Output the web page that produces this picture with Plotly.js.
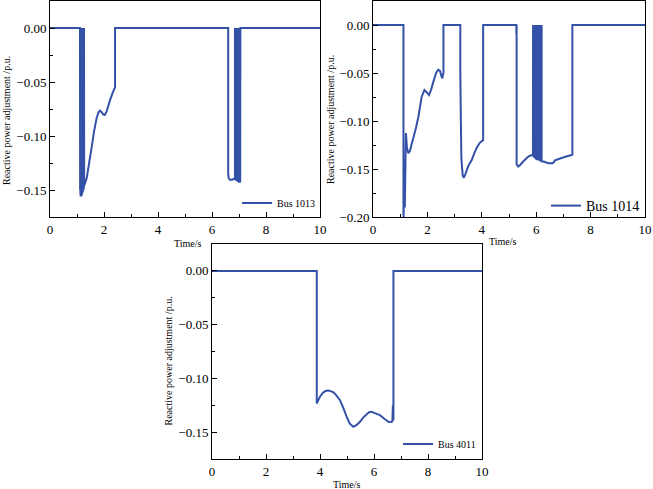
<!DOCTYPE html>
<html>
<head>
<meta charset="utf-8">
<script src="https://cdn.plot.ly/plotly-3.0.1.min.js"></script>
<style>
  html, body { margin: 0; padding: 0; background: #ffffff; }
  #chart { width: 653px; height: 489px; }
</style>
</head>
<body>
<div id="chart"></div>
<script>
// Reactive power adjustment of three buses over the simulation time (s)

const busNames = ['Bus 1013', 'Bus 1014', 'Bus 4011'];

// Bus 1013 (two switching bursts: ~1.1 s and ~6.85 s)
const timeBus1013 = [
  0,
  1.110, 1.115, 1.120, 1.125, 1.130, 1.135, 1.140, 1.145, 1.150, 1.155, 1.160,
  1.165, 1.170, 1.175, 1.180, 1.185, 1.190, 1.195, 1.200, 1.205, 1.210, 1.215,
  1.220, 1.225, 1.230, 1.235, 1.240, 1.245, 1.250, 1.255, 1.260,
  1.265, 1.31, 1.36, 1.45, 1.54, 1.63,
  1.73, 1.8, 1.85, 1.9, 1.97, 2.03, 2.1, 2.16, 2.22, 2.32, 2.39, 2.41, 2.41,
  6.6, 6.6, 6.62, 6.66, 6.75, 6.82, 6.85,
  6.850, 6.855, 6.860, 6.865, 6.870, 6.875, 6.880, 6.885, 6.890, 6.895, 6.900,
  6.905, 6.910, 6.915, 6.920, 6.925, 6.930, 6.935, 6.940, 6.945, 6.950, 6.955,
  6.960, 6.965, 6.970, 6.975, 6.980, 6.985, 6.990, 6.995, 7.000, 7.005, 7.010,
  7.015, 7.020, 7.025, 7.030, 7.035, 7.040, 7.045, 7.050,
  10
];
const qBus1013 = [
  0,
  0, -0.150, 0, -0.154, 0, -0.156, 0, -0.156, 0, -0.156, 0,
  -0.155, 0, -0.155, 0, -0.154, 0, -0.153, 0, -0.152, 0, -0.152,
  0, -0.151, 0, -0.150, 0, -0.149, 0, -0.148, 0,
  -0.146, -0.143, -0.139, -0.125, -0.111, -0.096,
  -0.083, -0.078, -0.0765, -0.0775, -0.080, -0.0805, -0.077, -0.072, -0.067, -0.060, -0.056, -0.055, 0,
  0, -0.135, -0.139, -0.1405, -0.1405, -0.1395, -0.140,
  0, -0.140, 0, -0.141, 0, -0.141, 0, -0.141, 0, -0.141, 0,
  -0.141, 0, -0.142, 0, -0.142, 0, -0.142, 0, -0.142, 0, -0.142,
  0, -0.142, 0, -0.142, 0, -0.142, 0, -0.143, 0, -0.143, 0,
  -0.143, 0, -0.143, 0, -0.143, 0, -0.143, 0,
  0
];
// Lower envelopes of the Bus 1013 switching bursts
const burstTimeBus1013a = [1.110, 1.115, 1.135, 1.155, 1.185, 1.215, 1.245, 1.260];
const burstQBus1013a    = [-0.150, -0.150, -0.156, -0.156, -0.154, -0.152, -0.149, -0.147];
const burstTimeBus1013b = [6.850, 6.855, 6.915, 6.995, 7.045, 7.050];
const burstQBus1013b    = [-0.140, -0.140, -0.142, -0.143, -0.143, -0.143];

// Bus 1014 (several switching intervals, burst near 6 s)
const timeBus1014 = [
  0, 1.12, 1.12, 1.15, 1.17, 1.21, 1.25, 1.30, 1.36, 1.42, 1.49, 1.58, 1.67,
  1.79, 1.89, 1.97, 2.06, 2.14, 2.22, 2.32, 2.40, 2.47, 2.50, 2.55, 2.57, 2.59, 2.59,
  3.21, 3.21, 3.23, 3.25, 3.30, 3.34, 3.40, 3.50, 3.63, 3.72, 3.81, 3.92, 4.02, 4.05, 4.05,
  5.27, 5.27, 5.28, 5.28, 5.34, 5.40, 5.53, 5.71, 5.83, 5.88,
  5.885, 5.895, 5.905, 5.915, 5.925, 5.935, 5.945, 5.955, 5.965, 5.975, 5.985,
  5.995, 6.005, 6.015, 6.025, 6.035, 6.045, 6.055, 6.065, 6.075, 6.085, 6.095,
  6.105, 6.115, 6.125, 6.135, 6.145, 6.155, 6.165, 6.175, 6.185, 6.195, 6.200, 6.200,
  6.30, 6.45, 6.60, 6.66, 6.69, 6.88, 7.10, 7.30, 7.33, 7.33, 10
];
const qBus1014 = [
  0, 0, -0.21, -0.15, -0.19, -0.1125, -0.128, -0.1335, -0.131, -0.124, -0.117, -0.107, -0.0955,
  -0.0747, -0.0677, -0.070, -0.073, -0.067, -0.059, -0.050, -0.0465, -0.048, -0.052, -0.0556, -0.052, -0.050, 0,
  0, -0.05, -0.10, -0.14, -0.157, -0.159, -0.155, -0.147, -0.1406, -0.134, -0.128, -0.123, -0.1205, -0.120, 0,
  0, -0.010, 0, -0.145, -0.1475, -0.146, -0.142, -0.137, -0.1354, -0.136,
  0, -0.137, 0, -0.138, 0, -0.138, 0, -0.139, 0, -0.139, 0,
  -0.140, 0, -0.140, 0, -0.141, 0, -0.141, 0, -0.141, 0, -0.141,
  0, -0.141, 0, -0.142, 0, -0.142, 0, -0.142, 0, -0.142, 0, -0.142,
  -0.1425, -0.144, -0.144, -0.1425, -0.141, -0.139, -0.137, -0.1354, -0.135, 0, 0
];
// Lower envelope of the Bus 1014 switching burst
const burstTimeBus1014 = [5.885, 5.895, 5.995, 6.095, 6.195, 6.200];
const burstQBus1014    = [-0.137, -0.137, -0.140, -0.141, -0.142, -0.142];

// Bus 4011 (single interval 3.9 s – 6.7 s)
const timeBus4011 = [
  0, 3.88, 3.88, 3.92, 4.0, 4.1, 4.2, 4.3, 4.37, 4.5, 4.6, 4.74, 4.87, 4.99,
  5.1, 5.23, 5.35, 5.48, 5.6, 5.73, 5.82, 5.91, 6.05, 6.22, 6.38, 6.53, 6.63,
  6.68, 6.70, 6.71, 6.72, 6.72, 10
];
const qBus4011 = [
  0, 0, -0.1234, -0.121, -0.117, -0.1135, -0.1118, -0.1113, -0.1116, -0.113, -0.1155, -0.1203, -0.128, -0.1358,
  -0.142, -0.145, -0.1435, -0.1404, -0.1365, -0.1333, -0.1315, -0.1311, -0.1325, -0.1342, -0.1375, -0.1404, -0.1405,
  -0.140, -0.125, -0.138, -0.138, 0, 0
];

const xTickVals = [0, 2, 4, 6, 8, 10];
const yTitle = 'Reactive power adjustment /p.u.';
const xTitle = 'Time/s';

const W = 653, H = 489;
const fx = p => p / W;          // pixel -> paper x
const fy = p => 1 - p / H;      // pixel -> paper y
const SERIF = '"Liberation Serif", "Times New Roman", Times, serif';
const BLUE = '#3451a8';

function lineTrace(x, y, name, xa, ya, legend) {
  return {
    x: x, y: y, name: name, type: 'scatter', mode: 'lines',
    xaxis: xa, yaxis: ya, legend: legend,
    line: { color: BLUE, width: 2, simplify: false },
    hoverinfo: 'skip'
  };
}
// Solid band covering a fast switching burst (from zero down to its lower envelope)
function burstTrace(x, y, xa, ya, legend) {
  return {
    x: x, y: y, type: 'scatter', mode: 'lines', fill: 'tozeroy',
    fillcolor: BLUE, line: { color: BLUE, width: 0 },
    xaxis: xa, yaxis: ya, legend: legend, showlegend: false,
    hoverinfo: 'skip'
  };
}

const traces = [
  burstTrace(burstTimeBus1013a, burstQBus1013a, 'x', 'y', 'legend'),
  burstTrace(burstTimeBus1013b, burstQBus1013b, 'x', 'y', 'legend'),
  burstTrace(burstTimeBus1014, burstQBus1014, 'x2', 'y2', 'legend2'),
  lineTrace(timeBus1013, qBus1013, busNames[0], 'x', 'y', 'legend'),
  lineTrace(timeBus1014, qBus1014, busNames[1], 'x2', 'y2', 'legend2'),
  lineTrace(timeBus4011, qBus4011, busNames[2], 'x3', 'y3', 'legend3')
];

function xAxis(domain, anchor) {
  return {
    domain: domain, anchor: anchor, range: [0, 10],
    tickvals: xTickVals, ticks: 'inside', ticklen: 5, tickwidth: 1, tickcolor: '#000',
    minor: { dtick: 1, tick0: 0, ticks: 'inside', ticklen: 3, tickcolor: '#000', showgrid: false },
    showline: true, linecolor: '#000', linewidth: 1, mirror: true,
    showgrid: false, zeroline: false,
    tickfont: { family: SERIF, size: 13, color: '#000' }
  };
}
function yAxis(domain, anchor, range) {
  return {
    domain: domain, anchor: anchor, range: range,
    tick0: 0, dtick: 0.05, tickformat: '.2f',
    ticks: 'inside', ticklen: 5, tickwidth: 1, tickcolor: '#000',
    minor: { dtick: 0.025, tick0: 0, ticks: 'inside', ticklen: 3, tickcolor: '#000', showgrid: false },
    showline: true, linecolor: '#000', linewidth: 1, mirror: true,
    showgrid: false, zeroline: false,
    tickfont: { family: SERIF, size: 13, color: '#000' }
  };
}

function legendAt(xPix, yPix, size) {
  return {
    x: fx(xPix), y: fy(yPix), xanchor: 'left', yanchor: 'middle',
    xref: 'paper', yref: 'paper',
    bgcolor: 'rgba(0,0,0,0)', borderwidth: 0,
    font: { family: SERIF, size: size, color: '#000' }
  };
}

function label(text, xPix, yPix, angle) {
  return {
    text: text, x: fx(xPix), y: fy(yPix), xref: 'paper', yref: 'paper',
    xanchor: 'center', yanchor: 'middle', showarrow: false, textangle: angle || 0,
    font: { family: SERIF, size: 10, color: '#000' }
  };
}

const layout = {
  width: W, height: H,
  margin: { l: 0, r: 0, t: 0, b: 0 },
  paper_bgcolor: '#ffffff', plot_bgcolor: '#ffffff',
  showlegend: true,
  xaxis: xAxis([fx(50), fx(320)], 'y'),
  yaxis: yAxis([fy(217), fy(1)], 'x', [-0.175, 0.025]),
  xaxis2: xAxis([fx(373), fx(645)], 'y2'),
  yaxis2: yAxis([fy(217), fy(1)], 'x2', [-0.2, 0.025]),
  xaxis3: xAxis([fx(212), fx(482)], 'y3'),
  yaxis3: yAxis([fy(459), fy(244)], 'x3', [-0.175, 0.025]),
  legend: legendAt(237, 203, 10),
  legend2: legendAt(546, 206, 14),
  legend3: legendAt(398, 444, 10),
  annotations: [
    label(yTitle, 7, 121, -90),
    label(yTitle, 330, 120, -90),
    label(yTitle, 167.5, 361, -90),
    label(xTitle, 188, 243),
    label(xTitle, 503, 242),
    label(xTitle, 347, 484)
  ]
};

Plotly.newPlot('chart', traces, layout, { staticPlot: true, displayModeBar: false });
</script>
</body>
</html>
